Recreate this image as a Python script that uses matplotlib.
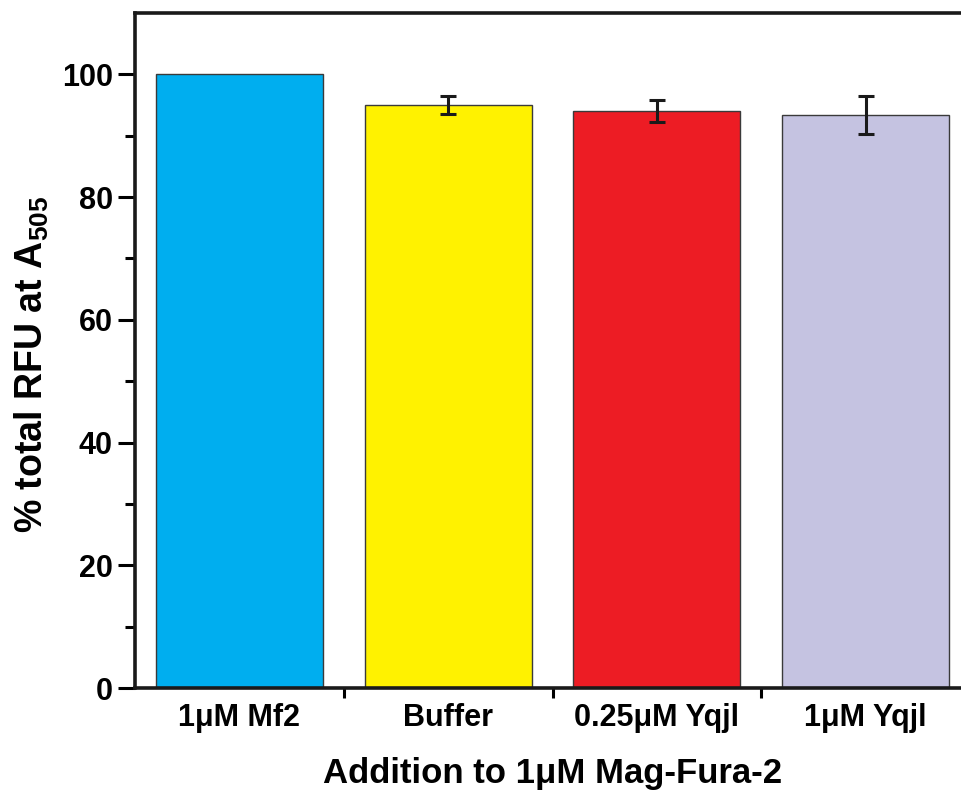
import matplotlib
matplotlib.use("Agg")
import matplotlib.pyplot as plt
from matplotlib.ticker import FixedLocator

plt.rcParams['font.family'] = ['Liberation Sans', 'DejaVu Sans']
plt.rcParams['font.weight'] = 'bold'
plt.rcParams['mathtext.fontset'] = 'custom'
plt.rcParams['mathtext.rm'] = 'Liberation Sans:bold'
plt.rcParams['mathtext.default'] = 'rm'

categories = ["1\u03bcM Mf2", "Buffer", "0.25\u03bcM Yqjl", "1\u03bcM Yqjl"]
values = [100.0, 95.0, 94.1, 93.4]
errors = [0.0, 1.45, 1.8, 3.1]
colors = ["#00AEEF", "#FFF200", "#ED1C24", "#C5C3E1"]

fig = plt.figure(figsize=(9.61, 7.91), dpi=100)
ax = fig.add_axes([135 / 961, 103 / 791, 835 / 961, 675 / 791])

x = list(range(len(categories)))
ax.bar(x, values, width=0.8, color=colors, edgecolor="#3a3a3a", linewidth=1.0, zorder=2)
err_x = [xi for xi, e in zip(x, errors) if e > 0]
err_y = [v for v, e in zip(values, errors) if e > 0]
err_e = [e for e in errors if e > 0]
ax.errorbar(err_x, err_y, yerr=err_e, fmt="none", ecolor="#1a1a1a",
            elinewidth=2.2, capsize=6, capthick=2.2, zorder=3)

ax.set_xlim(-0.5, 3.5)
ax.set_ylim(0, 110)

ax.set_xticks(x)
ax.set_xticklabels(categories, fontsize=22, fontweight="bold")
ax.xaxis.set_minor_locator(FixedLocator([0.5, 1.5, 2.5]))
ax.tick_params(axis="x", which="major", length=0, pad=11)
ax.tick_params(axis="x", which="minor", direction="out", length=7, width=2.2)

ax.yaxis.set_major_locator(FixedLocator([0, 20, 40, 60, 80, 100]))
ax.yaxis.set_minor_locator(FixedLocator([10, 30, 50, 70, 90]))
ax.tick_params(axis="y", which="major", direction="out", length=12, width=2.2,
               labelsize=22, pad=4)
ax.tick_params(axis="y", which="minor", direction="out", length=7, width=2.2)
for lbl in ax.get_yticklabels():
    lbl.set_fontweight("bold")

for side in ("left", "bottom", "top", "right"):
    ax.spines[side].set_linewidth(2.6)
    ax.spines[side].set_color("#1a1a1a")

ax.set_xlabel("Addition to 1\u03bcM Mag-Fura-2", fontsize=25, fontweight="bold", labelpad=17)
ax.set_ylabel("% total RFU at A$_{505}$", fontsize=27, fontweight="bold")
ax.yaxis.set_label_coords(-0.1, 0.48)

fig.savefig("out.png", dpi=100)
